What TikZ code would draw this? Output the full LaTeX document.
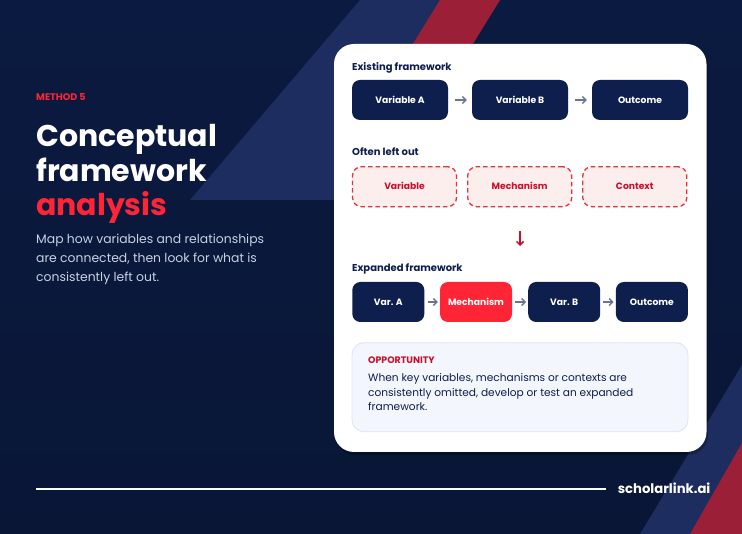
\documentclass[tikz,border=0pt]{standalone}
\usepackage{fontspec}
\setmainfont{Poppins}
\usepackage{xcolor}
\usetikzlibrary{arrows.meta}

\definecolor{bgnavy}{HTML}{0B1A40}
\definecolor{bgdeep}{HTML}{091636}
\definecolor{stripeblue}{HTML}{1D2D5F}
\definecolor{stripered}{HTML}{9C1F38}
\definecolor{boxnavy}{HTML}{0E1F4D}
\definecolor{hotred}{HTML}{FF2436}
\definecolor{gapred}{HTML}{E8323F}
\definecolor{gaptext}{HTML}{C8102E}
\definecolor{gapfill}{HTML}{FDEEEE}
\definecolor{arrowgray}{HTML}{6B7490}
\definecolor{notefill}{HTML}{F3F6FD}
\definecolor{noteline}{HTML}{DDE4F2}
\definecolor{softtext}{HTML}{C9D1E3}

\begin{document}
\begin{tikzpicture}[x=1pt, y=-1pt, >={Straight Barb[length=3.5pt, width=7pt]},
  flowbox/.style={rounded corners=8pt, fill=boxnavy, text=white, inner sep=0pt,
    minimum height=40pt, text height=6.6pt, text depth=0pt,
    font=\bfseries\fontsize{9.2}{11}\selectfont},
  keybox/.style={flowbox, fill=hotred},
  gapbox/.style={rounded corners=9pt, draw=gapred, fill=gapfill, text=gaptext,
    line width=1.3pt, dash pattern=on 4.5pt off 3pt, inner sep=0pt,
    minimum width=104pt, minimum height=40pt, text height=6.6pt, text depth=0pt,
    font=\bfseries\fontsize{9.2}{11}\selectfont},
  flowarrow/.style={->, draw=arrowgray, line width=1.4pt, shorten <=6.5pt, shorten >=5pt},
  rowhead/.style={anchor=base west, inner sep=0pt, text=boxnavy, font=\bfseries\fontsize{10}{12}\selectfont},
  titleline/.style={anchor=base west, inner sep=0pt, text=white, font=\bfseries\fontsize{30}{34}\selectfont},
  leadline/.style={anchor=base west, inner sep=0pt, text=softtext, font=\fontsize{12.4}{19}\selectfont},
  noteline/.style={anchor=base west, inner sep=0pt, text=boxnavy, font=\fontsize{10.6}{14.5}\selectfont}]

  % backdrop
  \shade[top color=bgnavy, bottom color=bgdeep] (0,0) rectangle (742,534);
  \fill[stripeblue] (360,0) -- (470,0) -- (350,200) -- (190,200) -- cycle;
  \fill[stripered] (440,0) -- (500,0) -- (463,60) -- (403,60) -- cycle;
  \fill[stripeblue] (640,534) -- (742,534) -- (742,365) -- cycle;
  \fill[stripered] (690,534) -- (742,534) -- (742,443) -- cycle;

  % left column
  \node[anchor=base west, inner sep=0pt, text=hotred, font=\bfseries\fontsize{9.6}{11}\selectfont] (method) at (36,100.7) {METHOD 5};
  \node[titleline] (titleA) at (36,146.7) {Conceptual};
  \node[titleline] (titleB) at (36,181.5) {framework};
  \node[titleline, text=hotred] (titleC) at (36,215.5) {analysis};
  \node[leadline] (leadA) at (36,243.3) {Map how variables and relationships};
  \node[leadline] (leadB) at (36,262.5) {are connected, then look for what is};
  \node[leadline] (leadC) at (36,281.7) {consistently left out.};

  % card
  \fill[black, opacity=.25, rounded corners=20pt] (335,46) rectangle (708,455);
  \fill[white, rounded corners=20pt] (334,44) rectangle (706.5,452);

  % existing framework
  \node[rowhead] (headA) at (352,70.7) {Existing framework};
  \node[flowbox, minimum width=96pt] (varA) at (400,100) {Variable A};
  \node[flowbox, minimum width=96pt] (varB) at (520,100) {Variable B};
  \node[flowbox, minimum width=96pt] (outA) at (640,100) {Outcome};
  \draw[flowarrow] (varA) -- (varB);
  \draw[flowarrow] (varB) -- (outA);

  % often left out
  \node[rowhead] (headB) at (352,156) {Often left out};
  \node[gapbox] (gapVar) at (404.5,186.7) {Variable};
  \node[gapbox] (gapMech) at (519.7,186.7) {Mechanism};
  \node[gapbox] (gapCtx) at (634.8,186.7) {Context};

  \coordinate (downTop) at (520,231.5);
  \coordinate (downEnd) at (520,246);
  \draw[->, draw=gaptext, line width=1.5pt] (downTop) -- (downEnd);

  % expanded framework
  \node[rowhead] (headC) at (352,272) {Expanded framework};
  \node[flowbox, minimum width=72pt] (xVarA) at (388.3,302) {Var. A};
  \node[keybox, minimum width=72pt] (xMech) at (476,302) {Mechanism};
  \node[flowbox, minimum width=72pt] (xVarB) at (564.2,302) {Var. B};
  \node[flowbox, minimum width=72pt] (xOut) at (651.9,302) {Outcome};
  \draw[flowarrow, shorten <=3pt, shorten >=2pt] (xVarA) -- (xMech);
  \draw[flowarrow, shorten <=3pt, shorten >=2pt] (xMech) -- (xVarB);
  \draw[flowarrow, shorten <=3pt, shorten >=2pt] (xVarB) -- (xOut);

  % opportunity note
  \node[draw=noteline, fill=notefill, line width=.8pt, rounded corners=12pt,
    minimum width=336pt, minimum height=89pt, inner sep=0pt] (note) at (520,387.2) {};
  \node[anchor=base west, inner sep=0pt, text=gaptext, font=\bfseries\fontsize{9.4}{11}\selectfont] (noteHead) at (368,363.7) {OPPORTUNITY};
  \node[noteline] (noteA) at (368,381.7) {When key variables, mechanisms or contexts are};
  \node[noteline] (noteB) at (368,396.2) {consistently omitted, develop or test an expanded};
  \node[noteline] (noteC) at (368,410.7) {framework.};

  % footer
  \coordinate (ruleStart) at (36,489);
  \coordinate (ruleEnd) at (605.5,489);
  \node[anchor=base west, inner sep=0pt, text=white, font=\bfseries\fontsize{13.2}{15}\selectfont] (brand) at (617.6,493.8) {scholarlink.ai};
  \draw[white, line width=1.6pt] (ruleStart) -- (ruleEnd);
\end{tikzpicture}
\end{document}
